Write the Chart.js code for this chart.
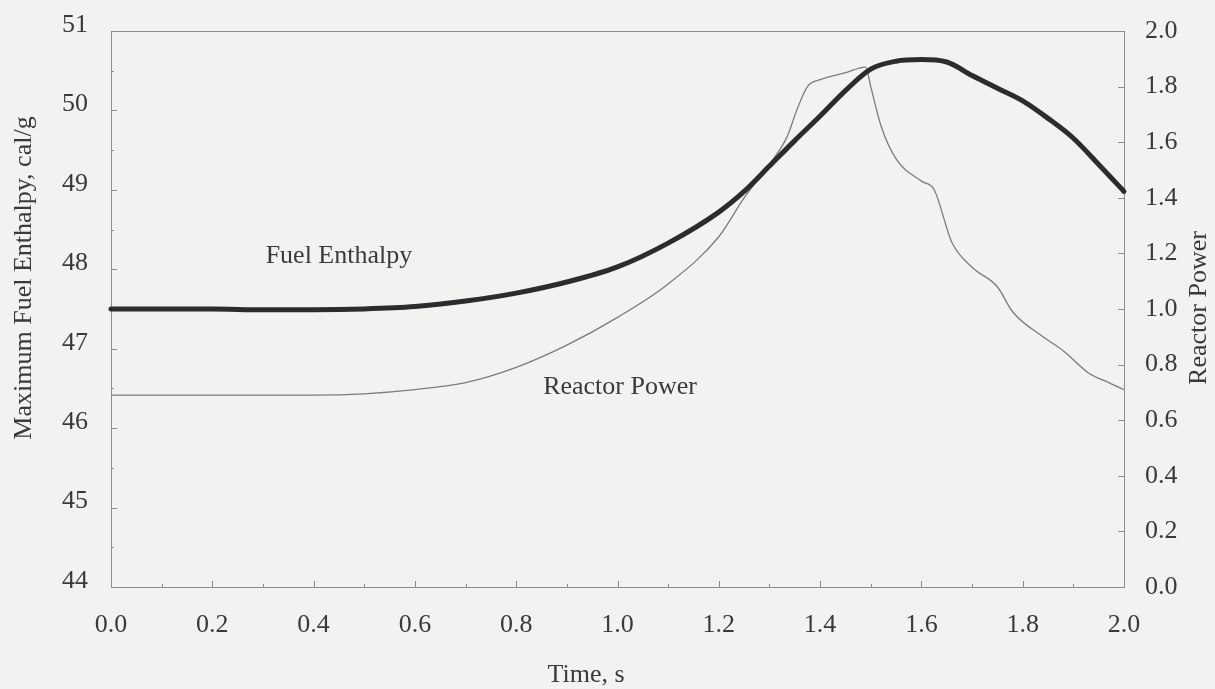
<!DOCTYPE html>
<html>
<head>
<meta charset="utf-8">
<script src="https://cdn.jsdelivr.net/npm/chart.js@4/dist/chart.umd.min.js"></script>
<style>
  html, body { margin: 0; padding: 0; background: #f2f2f0; }
  canvas { display: block; }
</style>
</head>
<body>
<canvas id="c" width="1215" height="689"></canvas>
<script>
// Maximum fuel enthalpy (cal/g) versus time (s)
const enthalpyTime = [0.0, 0.1, 0.2, 0.3, 0.4, 0.5, 0.6, 0.7, 0.8, 0.9, 1.0, 1.1, 1.2, 1.25, 1.3, 1.35, 1.4, 1.45, 1.5, 1.55, 1.6, 1.65, 1.7, 1.75, 1.8, 1.85, 1.9, 1.95, 2.0];
const enthalpy     = [47.50, 47.50, 47.50, 47.49, 47.49, 47.50, 47.53, 47.60, 47.70, 47.84, 48.03, 48.33, 48.72, 48.98, 49.30, 49.62, 49.93, 50.25, 50.52, 50.62, 50.64, 50.61, 50.44, 50.28, 50.12, 49.90, 49.65, 49.32, 48.98];

// Normalised reactor power versus time (s)
const powerTime = [0.0, 0.2, 0.4, 0.5, 0.6, 0.7, 0.8, 0.9, 1.0, 1.1, 1.2, 1.25, 1.3, 1.335, 1.355, 1.375, 1.4, 1.45, 1.49, 1.5, 1.52, 1.55, 1.6, 1.625, 1.66, 1.7, 1.75, 1.78, 1.84, 1.88, 1.93, 1.97, 2.0];
const power     = [0.69, 0.69, 0.69, 0.695, 0.71, 0.735, 0.79, 0.87, 0.97, 1.09, 1.26, 1.40, 1.52, 1.62, 1.72, 1.80, 1.825, 1.85, 1.87, 1.80, 1.66, 1.54, 1.46, 1.43, 1.24, 1.15, 1.08, 0.99, 0.90, 0.85, 0.77, 0.735, 0.71];

// Tick values for each axis
const timeTicks     = [0.0, 0.2, 0.4, 0.6, 0.8, 1.0, 1.2, 1.4, 1.6, 1.8, 2.0];
const enthalpyTicks = [44, 45, 46, 47, 48, 49, 50, 51];
const powerTicks    = [0.0, 0.2, 0.4, 0.6, 0.8, 1.0, 1.2, 1.4, 1.6, 1.8, 2.0];

const FONT = { family: '"Liberation Serif", "DejaVu Serif", serif', size: 26 };
const TEXT = '#3a3a3a';
const FRAME = '#8c8c8c';

function toPoints(xs, ys) { return xs.map((x, i) => ({ x: x, y: ys[i] })); }

// Vertical axes keep a fixed width and do not reserve room for label overhang
function fixVertical(width) {
  return s => { s.width = width; s.paddingTop = 0; s.paddingBottom = 0; };
}

// Frame, inward tick marks, curve labels and axis titles
const decorations = {
  id: 'decorations',
  beforeDatasetsDraw(chart) {
    const { ctx, chartArea: a, scales } = chart;
    ctx.save();
    ctx.strokeStyle = FRAME;
    ctx.lineWidth = 1;
    ctx.strokeRect(Math.round(a.left) + 0.5, Math.round(a.top) + 0.5,
                   Math.round(a.right - a.left), Math.round(a.bottom - a.top));
    ctx.beginPath();
    // x axis: major ticks plus minor ticks every 0.1 s
    for (let i = 0; i <= 20; i++) {
      const px = Math.round(scales.x.getPixelForValue(i / 10)) + 0.5;
      const len = i % 2 === 0 ? 6 : 3;
      ctx.moveTo(px, a.bottom); ctx.lineTo(px, a.bottom - len);
    }
    // left axis: whole units with half-unit minor ticks
    for (let v = 44; v <= 51; v += 0.5) {
      const py = Math.round(scales.y.getPixelForValue(v)) + 0.5;
      const len = Number.isInteger(v) ? 6 : 3;
      ctx.moveTo(a.left, py); ctx.lineTo(a.left + len, py);
    }
    // right axis
    powerTicks.forEach(v => {
      const py = Math.round(scales.y2.getPixelForValue(v)) + 0.5;
      ctx.moveTo(a.right, py); ctx.lineTo(a.right - 6, py);
    });
    ctx.stroke();
    ctx.restore();
  },
  afterDraw(chart) {
    const { ctx, scales } = chart;
    ctx.save();
    ctx.fillStyle = TEXT;
    ctx.font = `${FONT.size}px ${FONT.family}`;
    ctx.textAlign = 'center';
    ctx.textBaseline = 'middle';
    // curve labels
    ctx.fillText('Fuel Enthalpy', scales.x.getPixelForValue(0.45), scales.y.getPixelForValue(48.17));
    ctx.fillText('Reactor Power', scales.x.getPixelForValue(1.005), scales.y2.getPixelForValue(0.72));
    // axis titles
    ctx.fillText('Time, s', 586, 675);
    ctx.save();
    ctx.translate(24, 278);
    ctx.rotate(-Math.PI / 2);
    ctx.fillText('Maximum Fuel Enthalpy, cal/g', 0, 0);
    ctx.restore();
    ctx.save();
    ctx.translate(1199, 308);
    ctx.rotate(-Math.PI / 2);
    ctx.fillText('Reactor Power', 0, 0);
    ctx.restore();
    ctx.restore();
  }
};

new Chart(document.getElementById('c'), {
  type: 'line',
  data: {
    datasets: [
      {
        label: 'Fuel Enthalpy',
        data: toPoints(enthalpyTime, enthalpy),
        yAxisID: 'y',
        borderColor: '#2c2c2c',
        borderWidth: 5,
        pointRadius: 0,
        cubicInterpolationMode: 'monotone',
        borderCapStyle: 'round',
        clip: false
      },
      {
        label: 'Reactor Power',
        data: toPoints(powerTime, power),
        yAxisID: 'y2',
        borderColor: '#7c7c7c',
        borderWidth: 1.3,
        pointRadius: 0,
        cubicInterpolationMode: 'monotone'
      }
    ]
  },
  options: {
    responsive: false,
    devicePixelRatio: 1,
    animation: false,
    layout: { padding: { top: 31, left: 0, right: 0, bottom: 0 } },
    plugins: { legend: { display: false }, tooltip: { enabled: false } },
    scales: {
      x: {
        type: 'linear',
        min: 0, max: 2,
        afterBuildTicks: s => { s.ticks = timeTicks.map(v => ({ value: v })); },
        afterFit: s => { s.height = 102; s.paddingLeft = 0; s.paddingRight = 0; },
        grid: { display: false, drawTicks: false },
        border: { display: false },
        ticks: { font: FONT, color: TEXT, padding: 23, maxRotation: 0, autoSkip: false,
                 callback: v => Number(v).toFixed(1) }
      },
      y: {
        position: 'left',
        min: 44, max: 51,
        afterBuildTicks: s => { s.ticks = enthalpyTicks.map(v => ({ value: v })); },
        afterFit: fixVertical(111),
        grid: { display: false, drawTicks: false },
        border: { display: false },
        ticks: { font: FONT, color: TEXT, padding: 23, labelOffset: -6, callback: v => String(v) }
      },
      y2: {
        position: 'right',
        min: 0, max: 2,
        afterBuildTicks: s => { s.ticks = powerTicks.map(v => ({ value: v })); },
        afterFit: fixVertical(91),
        grid: { display: false, drawTicks: false },
        border: { display: false },
        ticks: { font: FONT, color: TEXT, padding: 21, callback: v => Number(v).toFixed(1) }
      }
    }
  },
  plugins: [decorations]
});
</script>
</body>
</html>
